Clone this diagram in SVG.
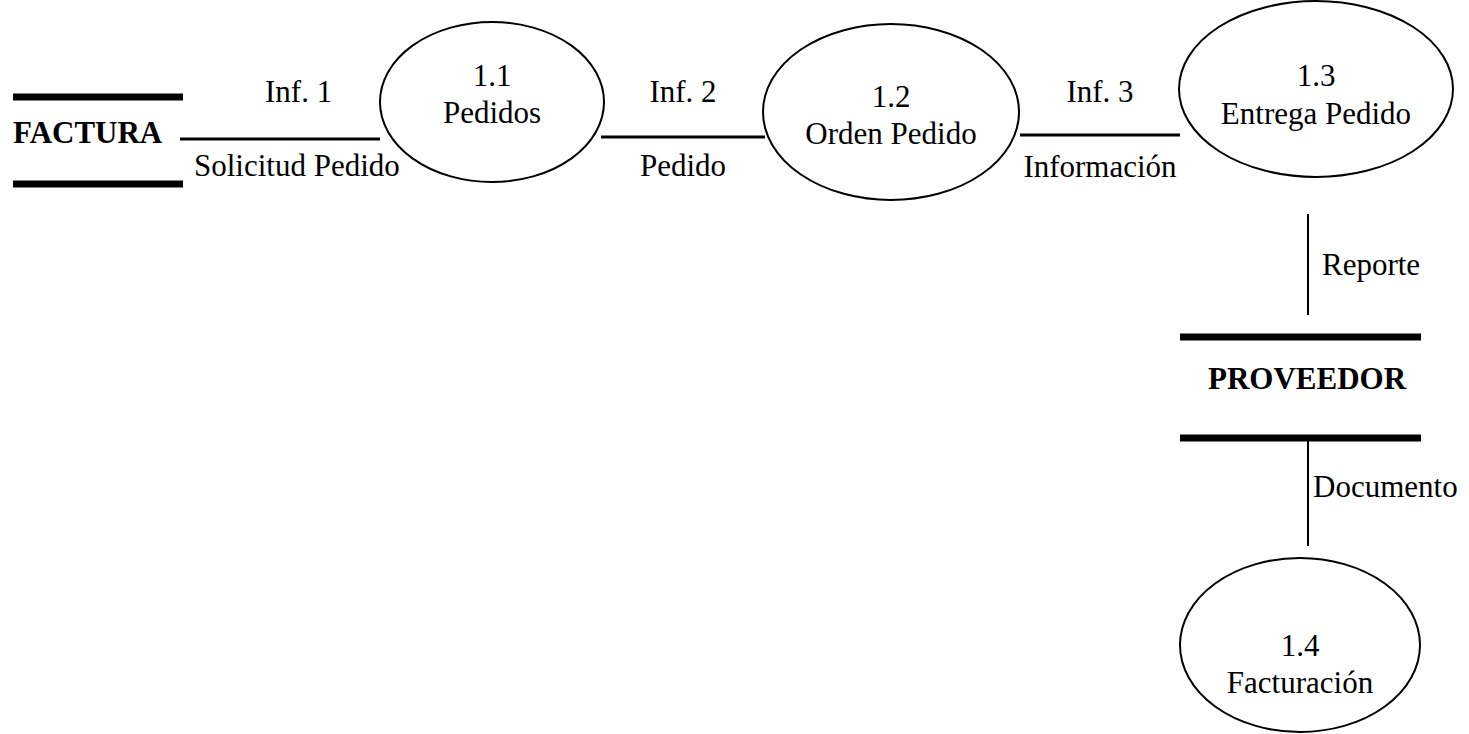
<svg xmlns="http://www.w3.org/2000/svg" width="1469" height="734" viewBox="0 0 1469 734">
<style>
.t{font-family:'Liberation Serif','Times New Roman',Times,serif;font-size:31px;fill:#000}
.b{font-weight:bold}
.m{text-anchor:middle}
.p{fill:#fff;stroke:#000;stroke-width:2}
.bar{stroke:#000;stroke-width:7}
.c{stroke:#000;stroke-width:3;fill:none}
.v{stroke:#000;stroke-width:2;fill:none}
</style>
<rect width="1469" height="734" fill="#fff"/>
<g id="connectors">
<line class="c" x1="180" y1="139" x2="380" y2="139"/>
<text class="t" x="265" y="102">Inf. 1</text>
<text class="t" x="194" y="176">Solicitud Pedido</text>
<line class="c" x1="601" y1="137" x2="765" y2="137"/>
<text class="t m" x="683" y="102">Inf. 2</text>
<text class="t m" x="683" y="176">Pedido</text>
<line class="c" x1="1020" y1="135" x2="1180" y2="135"/>
<text class="t m" x="1100" y="102">Inf. 3</text>
<text class="t m" x="1100" y="177">Información</text>
<line class="v" x1="1308" y1="214" x2="1308" y2="315"/>
<text class="t" x="1322" y="275">Reporte</text>
<line class="v" x1="1308" y1="438" x2="1308" y2="546"/>
<text class="t" x="1313" y="497">Documento</text>
</g>
<g id="factura">
<line class="bar" x1="13" y1="97" x2="183" y2="97"/>
<line class="bar" x1="13" y1="184" x2="183" y2="184"/>
<text class="t b" x="13" y="143">FACTURA</text>
</g>
<g id="p11">
<ellipse class="p" cx="492" cy="102" rx="112" ry="80"/>
<text class="t m" x="492" y="86">1.1</text>
<text class="t m" x="492" y="123">Pedidos</text>
</g>
<g id="p12">
<ellipse class="p" cx="891" cy="112" rx="128" ry="88"/>
<text class="t m" x="891" y="107">1.2</text>
<text class="t m" x="891" y="144">Orden Pedido</text>
</g>
<g id="p13">
<ellipse class="p" cx="1316" cy="89" rx="137" ry="88"/>
<text class="t m" x="1316" y="86">1.3</text>
<text class="t m" x="1316" y="124">Entrega Pedido</text>
</g>
<g id="proveedor">
<line class="bar" x1="1180" y1="337" x2="1421" y2="337"/>
<line class="bar" x1="1180" y1="438" x2="1421" y2="438"/>
<text class="t b m" x="1307" y="389">PROVEEDOR</text>
</g>
<g id="p14">
<ellipse class="p" cx="1300" cy="645" rx="120" ry="87"/>
<text class="t m" x="1300" y="656">1.4</text>
<text class="t m" x="1300" y="693">Facturación</text>
</g>
</svg>
